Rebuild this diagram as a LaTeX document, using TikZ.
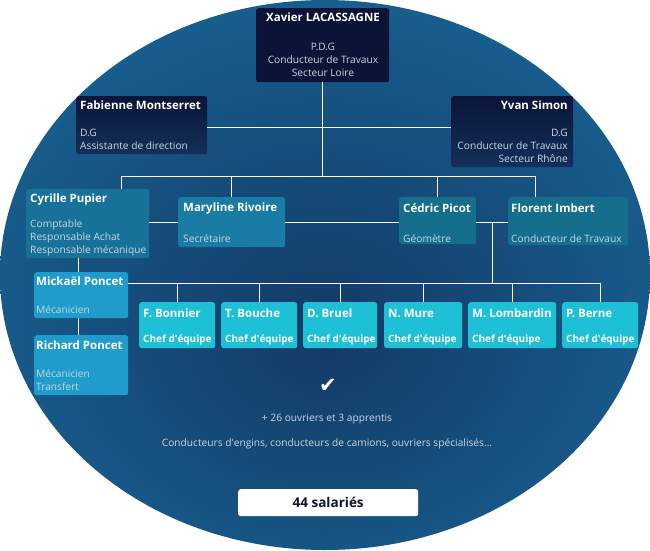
\documentclass[tikz,border=0pt]{standalone}
\usepackage{fontspec}
\setmainfont{Open Sans}
\newfontfamily\symbfont{DejaVu Sans}
\definecolor{bginner}{HTML}{143A66}
\definecolor{bgmid}{HTML}{16507F}
\definecolor{bgouter}{HTML}{1A7DB0}
\definecolor{pdg}{HTML}{0B1336}
\definecolor{dgtop}{HTML}{0B1538}
\definecolor{dgbot}{HTML}{13305A}
\definecolor{staff}{HTML}{1A7BA5}
\definecolor{tech}{HTML}{146E8C}
\definecolor{meca}{HTML}{1F9CCB}
\definecolor{chef}{HTML}{1EC0D6}
\definecolor{desctext}{HTML}{C9D6E4}
\definecolor{countnavy}{HTML}{0D1530}
\pgfdeclareradialshading{bgshade}{\pgfpoint{0bp}{-6bp}}{color(0bp)=(bginner); color(18bp)=(bgmid); color(50bp)=(bgouter)}
\begin{document}
\begin{tikzpicture}[x=1pt,y=-1pt,
  orgbox/.style={anchor=north west,inner sep=0pt,rounded corners=2.5pt},
  nametxt/.style={inner sep=0pt,text=white,font=\bfseries\fontsize{11.5}{13}\selectfont},
  desctxt/.style={inner sep=0pt,text=desctext,font=\fontsize{10.2}{13}\selectfont},
  link/.style={draw=white,line width=0.9pt}]
  % background
  \fill[white] (0,0) rectangle (650,550);
  \path[shading=bgshade] (325,275) ellipse [x radius=325pt, y radius=275pt];
  % direction
  \node[orgbox,fill=pdg,minimum width=133pt,minimum height=74pt] (xavier) at (256,8) {};
  \node[nametxt,anchor=base] (xaviern) at (323,21) {Xavier LACASSAGNE};
  \node[desctxt,anchor=north,align=center] (xavierd) at (323,41.4) {\strut P.D.G\\Conducteur de Travaux\\Secteur Loire};
  \node[orgbox,top color=dgtop,bottom color=dgbot,minimum width=131pt,minimum height=58pt] (fabienne) at (76,96) {};
  \node[nametxt,anchor=base west] (fabiennen) at (80,109) {Fabienne Montserret};
  \node[desctxt,anchor=north west,align=left] (fabienned) at (80,127.4) {\strut D.G\\Assistante de direction};
  \node[orgbox,top color=dgtop,bottom color=dgbot,minimum width=122pt,minimum height=71pt] (yvan) at (451,96) {};
  \node[nametxt,anchor=base east] (yvann) at (568,109) {Yvan Simon};
  \node[desctxt,anchor=north east,align=right] (yvand) at (568,127.4) {\strut D.G\\Conducteur de Travaux\\Secteur Rhône};
  % services
  \node[orgbox,fill=staff!92!black,minimum width=123pt,minimum height=69pt] (cyrille) at (26,189) {};
  \node[nametxt,anchor=base west] (cyrillen) at (30,202) {Cyrille Pupier};
  \node[desctxt,anchor=north west,align=left] (cyrilled) at (30,218) {\strut Comptable\\Responsable Achat\\Responsable mécanique};
  \node[orgbox,fill=staff,minimum width=107pt,minimum height=50pt] (maryline) at (178,197) {};
  \node[nametxt,anchor=base west] (marylinen) at (183,211) {Maryline Rivoire};
  \node[desctxt,anchor=base west] (marylined) at (183,242) {Secrétaire};
  \node[orgbox,fill=tech,minimum width=77pt,minimum height=47pt] (cedric) at (399,197) {};
  \node[nametxt,anchor=base west] (cedricn) at (403,212) {Cédric Picot};
  \node[desctxt,anchor=base west] (cedricd) at (403,242.5) {Géomètre};
  \node[orgbox,fill=tech,minimum width=120pt,minimum height=48pt] (florent) at (508,197) {};
  \node[nametxt,anchor=base west] (florentn) at (511,212) {Florent Imbert};
  \node[desctxt,anchor=base west] (florentd) at (511,242.5) {Conducteur de Travaux};
  % atelier
  \node[orgbox,fill=meca,minimum width=94pt,minimum height=46pt] (mickael) at (34,272) {};
  \node[nametxt,anchor=base west] (mickaeln) at (36,285) {Mickaël Poncet};
  \node[desctxt,text=desctext!95!meca,anchor=base west] (mickaeld) at (36,313) {Mécanicien};
  \node[orgbox,fill=meca,minimum width=94pt,minimum height=60pt] (richard) at (34,335) {};
  \node[nametxt,anchor=base west] (richardn) at (36,349) {Richard Poncet};
  \node[desctxt,text=desctext!95!meca,anchor=north west,align=left] (richardd) at (36,367.9) {\strut Mécanicien\\Transfert};
  % chefs d'equipe
  \foreach \i/\x/\w/\who in {1/139/76/F. Bonnier,2/221/76/T. Bouche,3/303/74/D. Bruel,
      4/384/78/N. Mure,5/468/88/M. Lombardin,6/562/76/P. Berne} {
    \node[orgbox,fill=chef,minimum width=\w pt,minimum height=46pt] (chef\i) at (\x,302) {};
    \node[nametxt,anchor=base west] (chef\i n) at (\x+4,317) {\who};
    \node[nametxt,anchor=base west,font=\bfseries\fontsize{10}{12}\selectfont] (chef\i d) at (\x+4,342.7) {Chef d\textquotesingle équipe};
  }
  % liaisons
  \coordinate (dg) at (323,127);
  \coordinate (busL) at (121,176);
  \coordinate (busR) at (535,176);
  \coordinate (row) at (492,222);
  \coordinate (chefbus) at (492,283);
  \coordinate (mech) at (78,0);
  \draw[link] (xavier.south) -- (xavier.south |- busL);
  \draw[link] (fabienne.east |- dg) -- (yvan.west |- dg);
  \draw[link] (busL) -- (busR);
  \draw[link] (busL) -- (busL |- cyrille.north);
  \draw[link] (maryline.north |- busL) -- (maryline.north);
  \draw[link] (cedric.north |- busL) -- (cedric.north);
  \draw[link] (busR) -- (busR |- florent.north);
  \draw[link] (cyrille.east |- row) -- (maryline.west |- row);
  \draw[link] (maryline.east |- row) -- (cedric.west |- row);
  \draw[link] (cedric.east |- row) -- (florent.west |- row);
  \draw[link] (row) -- (chefbus);
  \draw[link] (mickael.east |- chefbus) -- (chef6.north |- chefbus);
  \foreach \i in {1,...,6}
    \draw[link] (chef\i.north |- chefbus) -- (chef\i.north);
  \draw[link] (mech |- cyrille.south) -- (mech |- mickael.north);
  \draw[link] (mech |- mickael.south) -- (mech |- richard.north);
  % effectif
  \node[inner sep=0pt,text=white,font=\symbfont\fontsize{21}{21}\selectfont] (check) at (328,386) {✔};
  \node[desctxt,text=desctext] (ouvriers) at (327,419) {+ 26 ouvriers et 3 apprentis};
  \node[desctxt,text=desctext] (metiers) at (327,444) {Conducteurs d\textquotesingle engins, conducteurs de camions, ouvriers spécialisés...};
  \node[orgbox,fill=white,minimum width=180pt,minimum height=27pt] (total) at (238,489) {};
  \node[inner sep=0pt,text=countnavy,font=\bfseries\fontsize{13.5}{15}\selectfont] (totaln) at (total.center) {44 salariés};
\end{tikzpicture}
\end{document}
